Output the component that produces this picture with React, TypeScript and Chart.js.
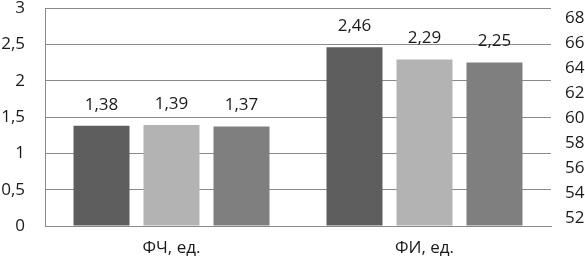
import React, { useEffect, useRef } from "react";
import { Chart, registerables } from "chart.js";

Chart.register(...registerables);

const categories = ["ФЧ, ед.", "ФИ, ед."];
const series1 = [1.38, 2.46];
const series2 = [1.39, 2.29];
const series3 = [1.37, 2.25];
const seriesNames = ["Ряд 1", "Ряд 2", "Ряд 3"];
const seriesColors = ["#5e5e5e", "#b3b3b3", "#7f7f7f"];
const leftMin = 0;
const leftMax = 3;
const leftStep = 0.5;
const rightMin = 51.36;
const rightMax = 68.8;
const rightStep = 2;

const FONT = "'Open Sans', 'DejaVu Sans', sans-serif";
const TEXT = "#1a1a1a";
const GRID = "#8a8a8a";

const fmt = (v: number, d?: number) =>
  (d !== undefined ? v.toFixed(d) : String(v)).replace(".", ",");

const valueLabels = {
  id: "valueLabels",
  afterDatasetsDraw(chart: any) {
    const ctx = chart.ctx;
    ctx.save();
    ctx.font = `17px ${FONT}`;
    ctx.fillStyle = TEXT;
    ctx.textAlign = "center";
    ctx.textBaseline = "middle";
    chart.data.datasets.forEach((ds: any, i: number) => {
      const meta = chart.getDatasetMeta(i);
      meta.data.forEach((bar: any, j: number) => {
        ctx.fillText(fmt(ds.data[j], 2), bar.x, bar.y - 21);
      });
    });
    ctx.restore();
  },
};

export default function App() {
  const ref = useRef<HTMLCanvasElement | null>(null);
  useEffect(() => {
    if (!ref.current) return;
    const chart = new Chart(ref.current, {
      type: "bar",
      data: {
        labels: categories,
        datasets: [series1, series2, series3].map((d, i) => ({
          label: seriesNames[i],
          data: d,
          backgroundColor: seriesColors[i],
          borderWidth: 0,
          yAxisID: "y",
          categoryPercentage: 0.83,
          barPercentage: 0.8,
        })),
      },
      options: {
        animation: false,
        responsive: false,
        maintainAspectRatio: false,
        layout: { padding: 0 },
        plugins: {
          legend: { display: false },
          tooltip: { enabled: false },
        },
        scales: {
          x: {
            grid: { display: false, drawTicks: false },
            border: { display: true, color: GRID, width: 1 },
            ticks: {
              color: TEXT,
              font: { family: FONT, size: 17 },
              padding: 12,
              maxRotation: 0,
            },
            afterFit: (s: any) => {
              s.height = 36;
              s.paddingLeft = 0;
              s.paddingRight = 0;
            },
          },
          y: {
            position: "left",
            min: leftMin,
            max: leftMax,
            grid: { color: GRID, lineWidth: 1, drawTicks: false },
            border: { display: true, color: GRID, width: 1 },
            ticks: {
              stepSize: leftStep,
              color: TEXT,
              font: { family: FONT, size: 17 },
              padding: 20,
              callback: (v: any) => fmt(Number(v)),
            },
            afterFit: (s: any) => {
              s.width = 45;
              s.paddingTop = 8;
              s.paddingBottom = 0;
            },
          },
          y1: {
            type: "linear",
            position: "right",
            min: rightMin,
            max: rightMax,
            grid: { display: false, drawTicks: false },
            border: { display: false },
            ticks: {
              stepSize: rightStep,
              includeBounds: false,
              color: TEXT,
              font: { family: FONT, size: 17 },
              padding: 14,
              callback: (v: any) => fmt(Number(v)),
            },
            afterFit: (s: any) => {
              s.width = 34;
              s.paddingTop = 8;
              s.paddingBottom = 0;
            },
          },
        },
      },
      plugins: [valueLabels],
    } as any);
    return () => chart.destroy();
  }, []);
  return (
    <div style={{ position: "fixed", left: 0, top: 0, width: 585, height: 262, background: "#fff" }}>
      <canvas ref={ref} width={585} height={262} style={{ width: 585, height: 262 }} />
    </div>
  );
}
